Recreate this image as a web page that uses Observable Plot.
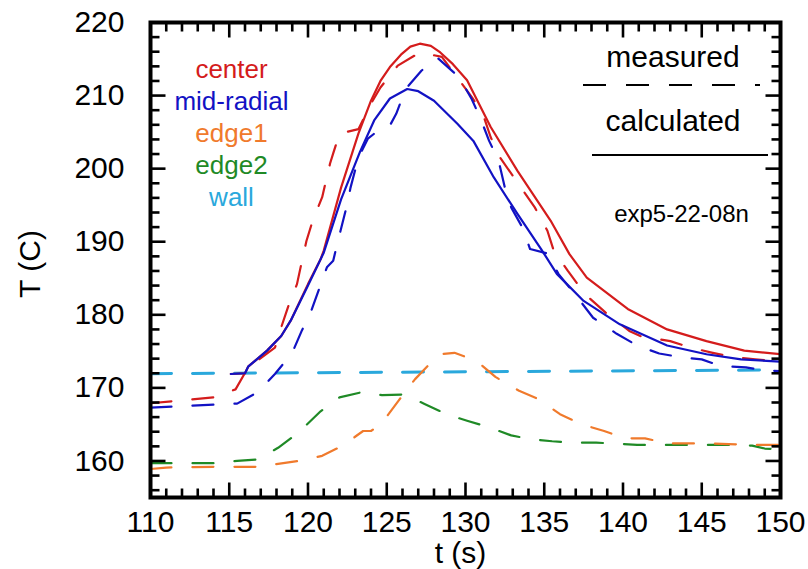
<!DOCTYPE html>
<html><head><meta charset="utf-8">
<script src="https://cdn.jsdelivr.net/npm/d3@7"></script>
<script src="https://cdn.jsdelivr.net/npm/@observablehq/plot@0.6"></script>
<style>
html,body{margin:0;padding:0;background:#fff;}
#chart svg{display:block;}
</style>
</head><body><div id="chart"></div>
<script>
// ---- data ----
const centerCalcTime = [115.1,116.0,116.2,117.4,118.3,118.9,120.0,120.8,121.0,122.1,123.2,124.0,124.6,125.2,125.9,126.5,127.1,127.8,128.4,129.2,130.1,131.6,133.3,135.4,136.6,137.7,140.3,142.8,145.3,147.7,150];
const centerCalcTemp = [171.9,172.0,172.9,175.1,177.1,179.2,184.2,187.6,188.8,197.4,204.8,209.3,212.0,213.9,215.6,216.7,217.1,216.8,215.9,214.3,212.1,205.7,199.7,192.9,188.3,185.1,180.8,178.0,176.4,175.1,174.6];

const midCalcTime = [115.1,116.0,116.2,117.4,118.3,118.9,120.0,121.0,122.1,123.3,124.2,125.2,126.3,127.0,128.0,129.5,130.5,131.8,133.3,134.8,135.8,137.5,139.8,142.8,145.3,147.5,150];
const midCalcTemp = [171.9,172.0,172.9,175.1,177.1,179.2,184.0,188.5,195.8,202.3,206.6,209.6,210.9,210.6,209.3,206.1,203.8,198.8,193.8,189.0,185.6,181.9,178.7,175.8,174.6,173.9,173.6];

const centerMeasTime = [110,114.0,115.4,116.2,117.9,118.3,118.8,119.3,119.6,119.9,120.3,120.9,121.4,121.6,122.0,123.2,124.0,124.6,125.7,127.1,128.5,130.4,131.1,131.6,132.2,134.4,135.2,135.6,136.5,137.6,138.9,140.4,141.1,143.0,144.3,145.7,147.0,148.4,150];
const centerMeasTemp = [167.9,168.7,169.8,172.8,175.5,178.3,181.5,184.2,187.2,190.1,192.9,196.1,200.7,202.1,204.8,205.4,208.9,211.1,214.1,215.9,215.3,209.8,207.5,204.3,201.5,194.7,191.5,188.8,186.0,182.8,180.3,177.8,177.1,176.4,175.5,174.8,174.2,173.9,173.6];

const midMeasTime = [110,114.0,115.5,116.8,117.9,119.0,119.6,120.2,120.7,121.2,121.6,121.9,122.5,122.7,123.2,123.8,124.8,125.2,125.6,126.2,127.2,128.2,129.6,130.4,131.0,131.5,132.1,132.5,132.9,133.6,134.1,135.2,135.9,137.1,138.1,139.6,140.9,142.3,143.7,145.0,146.2,147.8,149.0,150];
const midMeasTemp = [167.3,167.7,167.85,169.4,171.9,174.8,177.8,180.5,183.5,186.5,187.4,190.1,195.2,197.4,201.5,204.1,205.8,205.9,207.5,210.9,213.4,215.2,212.5,209.5,206.6,203.8,201.1,197.4,194.7,192.0,189.0,188.4,185.6,182.4,179.6,177.4,175.8,174.7,174.2,173.9,173.0,172.8,172.4,172.3];

const edge1Time = [110,111,114,116.8,118.1,119.4,120.9,122.2,123.5,124.0,124.7,125.8,126.8,128.0,128.4,129.3,130.7,131.9,133.4,134.7,136.0,137.4,138.8,140.1,141.4,142.8,145.5,148.3,150];
const edge1Temp = [158.9,159.1,159.2,159.2,159.6,160.0,160.7,162.1,164.1,164.1,165.2,168.4,171.2,173.9,174.6,174.8,173.7,171.5,169.6,168.4,166.4,165.0,164.1,163.1,163.1,162.4,162.4,162.2,162.2];

const edge2Time = [110,114,115.5,116.8,118.1,119.4,120.8,122.0,123.4,124.7,126.1,127.4,128.8,130.1,131.5,132.9,134.1,135.5,136.9,138.3,139.4,140.9,143.7,146.4,148.2,149.0,150];
const edge2Temp = [159.7,159.7,160.0,160.2,161.8,163.9,166.8,168.7,169.4,169.0,169.1,167.8,166.4,165.5,164.6,163.5,163.0,162.7,162.5,162.5,162.4,162.2,162.2,162.2,162.1,161.7,161.6];

const wallTime = [110,150];
const wallTemp = [171.95,172.45];

const legendNames = ["center","mid-radial","edge1","edge2","wall"];
const xMajorTicks = [110,115,120,125,130,135,140,145,150];
const yMajorTicks = [160,170,180,190,200,210,220];

// ---- styles ----
const colors = {center:"#d41c1c", mid:"#1212c4", edge1:"#f07a2c", edge2:"#1f8a26", wall:"#2aa8dc"};
const legendColors = [colors.center, colors.mid, colors.edge1, colors.edge2, colors.wall];
const FONT = "'Liberation Sans', Arial, sans-serif";

const W = 808, H = 569, ML = 150, MR = 28, MT = 22, MB = 72;
const xDomain = [110, 150], yDomain = [155, 220];
const innerW = W - ML - MR, innerH = H - MT - MB;

const rows = (t, v) => t.map((d, i) => ({t: d, T: v[i]}));
const xMinorTicks = d3.range(110, 150.5, 1).filter(v => !xMajorTicks.includes(v));
const yMinorTicks = d3.range(156, 220.5, 2).filter(v => !yMajorTicks.includes(v));

const dash = "21,21";
const minorLen = 9, majorLen = 15, tickWidth = 2.6;

// tick segments built from the tick lists (lengths converted from pixels to data units)
const xUnit = (xDomain[1] - xDomain[0]) / innerW;
const yUnit = (yDomain[1] - yDomain[0]) / innerH;
const tickSegments = [];
const pushX = (ticks, len) => ticks.forEach(v => {
  tickSegments.push({id: `xb${v}`, t: v, T: yDomain[0]}, {id: `xb${v}`, t: v, T: yDomain[0] + len * yUnit});
  tickSegments.push({id: `xt${v}`, t: v, T: yDomain[1]}, {id: `xt${v}`, t: v, T: yDomain[1] - len * yUnit});
});
const pushY = (ticks, len) => ticks.forEach(v => {
  tickSegments.push({id: `yl${v}`, t: xDomain[0], T: v}, {id: `yl${v}`, t: xDomain[0] + len * xUnit, T: v});
  tickSegments.push({id: `yr${v}`, t: xDomain[1], T: v}, {id: `yr${v}`, t: xDomain[1] - len * xUnit, T: v});
});
pushX(xMinorTicks, minorLen); pushX(xMajorTicks, majorLen);
pushY(yMinorTicks, minorLen); pushY(yMajorTicks, majorLen);

function legendLines() {
  const g = d3.create("svg:g");
  g.append("line").attr("x1",583).attr("x2",760).attr("y1",85).attr("y2",85)
    .attr("stroke","#000").attr("stroke-width",2).attr("stroke-dasharray","23,20");
  g.append("line").attr("x1",592).attr("x2",768).attr("y1",155).attr("y2",155)
    .attr("stroke","#000").attr("stroke-width",2);
  return g.node();
}

const chart = Plot.plot({
  width: W,
  height: H,
  marginLeft: ML,
  marginRight: MR,
  marginTop: MT,
  marginBottom: MB,
  style: {fontFamily: FONT, background: "#fff", color: "#000"},
  x: {domain: xDomain, axis: null},
  y: {domain: yDomain, axis: null},
  marks: [
    Plot.line(rows(wallTime, wallTemp), {x: "t", y: "T", stroke: colors.wall, strokeWidth: 3, strokeDasharray: dash, clip: true}),
    Plot.line(rows(edge2Time, edge2Temp), {x: "t", y: "T", stroke: colors.edge2, strokeWidth: 2.2, strokeDasharray: dash, clip: true}),
    Plot.line(rows(edge1Time, edge1Temp), {x: "t", y: "T", stroke: colors.edge1, strokeWidth: 2.2, strokeDasharray: dash, clip: true}),
    Plot.line(rows(centerMeasTime, centerMeasTemp), {x: "t", y: "T", stroke: colors.center, strokeWidth: 2.2, strokeDasharray: dash, clip: true}),
    Plot.line(rows(midMeasTime, midMeasTemp), {x: "t", y: "T", stroke: colors.mid, strokeWidth: 2.2, strokeDasharray: dash, clip: true}),
    Plot.line(rows(centerCalcTime, centerCalcTemp), {x: "t", y: "T", stroke: colors.center, strokeWidth: 2.2, clip: true}),
    Plot.line(rows(midCalcTime, midCalcTemp), {x: "t", y: "T", stroke: colors.mid, strokeWidth: 2.2, clip: true}),

    // tick labels
    Plot.axisX(xMajorTicks, {anchor: "bottom", tickSize: 0, tickPadding: 13, fontSize: 30, label: null, tickFormat: d => String(d), fill: "#000"}),
    Plot.axisY(yMajorTicks, {anchor: "left", tickSize: 0, tickPadding: 26, fontSize: 30, label: null, tickFormat: d => String(d), fill: "#000"}),

    Plot.frame({stroke: "#000", strokeWidth: 4}),

    // inward ticks on all four sides, one short path per tick
    Plot.line(tickSegments, {x: "t", y: "T", z: "id", stroke: "#000", strokeWidth: tickWidth, strokeLinecap: "butt"}),

    // axis titles
    Plot.text(["T (C)"], {text: d => d, frameAnchor: "left", dx: -120, dy: 4, rotate: -90, fontSize: 30, fill: "#000", textAnchor: "middle", lineAnchor: "middle"}),
    Plot.text(["t (s)"], {text: d => d, frameAnchor: "bottom", dx: -5, dy: 56, fontSize: 30, fill: "#000", textAnchor: "middle", lineAnchor: "middle"}),

    // series legend (left)
    ...legendNames.map((name, i) =>
      Plot.text([name], {text: d => d, frameAnchor: "top-left", dx: 81, dy: 55 + 32 * i, fill: legendColors[i], fontSize: 26, textAnchor: "middle", lineAnchor: "bottom"})
    ),

    // line-style legend (right)
    Plot.text(["measured"], {text: d => d, frameAnchor: "top-left", dx: 522.5, dy: 44.7, fontSize: 30, textAnchor: "middle", lineAnchor: "bottom", fill: "#000"}),
    Plot.text(["calculated"], {text: d => d, frameAnchor: "top-left", dx: 522.5, dy: 108, fontSize: 30, textAnchor: "middle", lineAnchor: "bottom", fill: "#000"}),
    Plot.text(["exp5-22-08n"], {text: d => d, frameAnchor: "top-left", dx: 531, dy: 199, fontSize: 24, textAnchor: "middle", lineAnchor: "bottom", fill: "#000"}),
    legendLines
  ]
});

document.getElementById("chart").appendChild(chart);
</script>
</body></html>
